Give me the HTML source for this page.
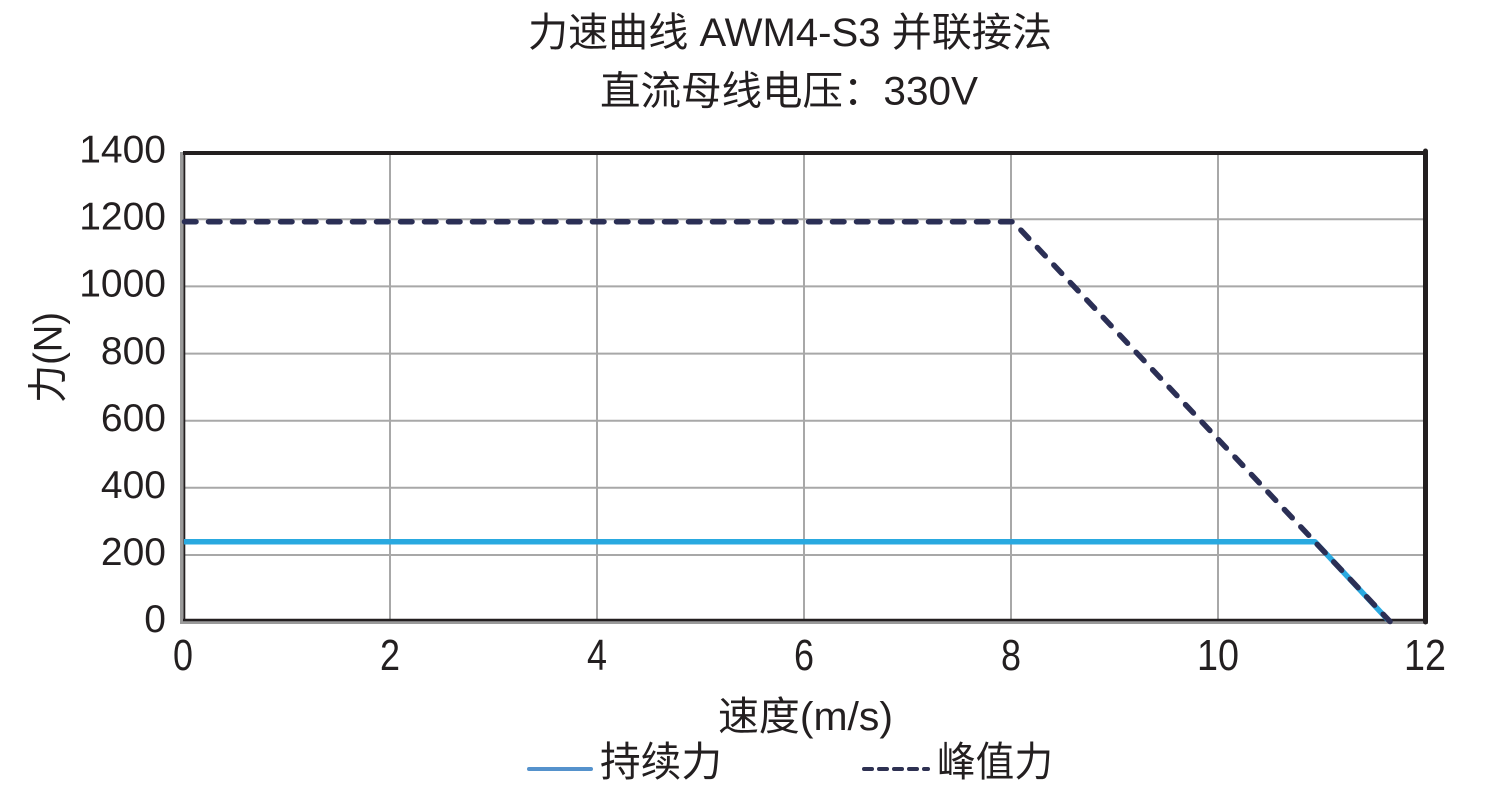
<!DOCTYPE html>
<html>
<head>
<meta charset="utf-8">
<style>
  html,body{margin:0;padding:0;background:#fff;}
  body{width:1509px;height:808px;overflow:hidden;}
  svg{display:block;}
  text{font-family:"Liberation Sans","Noto Sans CJK SC",sans-serif;fill:#231f20;}
</style>
</head>
<body>
<svg width="1509" height="808" viewBox="0 0 1509 808" xmlns="http://www.w3.org/2000/svg">
  <!-- Title -->
  <text x="528" y="46" font-size="40" textLength="524" lengthAdjust="spacingAndGlyphs">力速曲线 AWM4-S3 并联接法</text>
  <text x="600" y="104.5" font-size="40" textLength="378" lengthAdjust="spacingAndGlyphs">直流母线电压：330V</text>

  <!-- Grid -->
  <g stroke="#a8a8a8" stroke-width="2" fill="none">
    <line x1="390" y1="153" x2="390" y2="620"/>
    <line x1="597" y1="153" x2="597" y2="620"/>
    <line x1="804" y1="153" x2="804" y2="620"/>
    <line x1="1011" y1="153" x2="1011" y2="620"/>
    <line x1="1218" y1="153" x2="1218" y2="620"/>
    <line x1="184" y1="555" x2="1424" y2="555"/>
    <line x1="184" y1="487.8" x2="1424" y2="487.8"/>
    <line x1="184" y1="420.7" x2="1424" y2="420.7"/>
    <line x1="184" y1="353.6" x2="1424" y2="353.6"/>
    <line x1="184" y1="286.4" x2="1424" y2="286.4"/>
    <line x1="184" y1="219.3" x2="1424" y2="219.3"/>
  </g>

  <!-- Frame -->
  <polyline points="181.5,152 181.5,622.5 1428,622.5" fill="none" stroke="#9a9a9a" stroke-width="3"/>
  <line x1="184.3" y1="153" x2="184.3" y2="621" stroke="#231f20" stroke-width="2"/>
  <line x1="183" y1="620" x2="1428" y2="620" stroke="#231f20" stroke-width="2.5"/>
  <line x1="183" y1="153" x2="1428" y2="153" stroke="#231f20" stroke-width="4"/>
  <line x1="1425.5" y1="151" x2="1425.5" y2="622" stroke="#231f20" stroke-width="5" stroke-linecap="round"/>

  <!-- Series: continuous force -->
  <polyline points="184,541.8 1315,541.8 1388,620" fill="none" stroke="#29a9e0" stroke-width="5.5" stroke-linejoin="round"/>
  <!-- Series: peak force -->
  <polyline points="184.5,221.7 1013,221.7 1390,621.5" fill="none" stroke="#2b2f55" stroke-width="5.5" stroke-linecap="round" stroke-linejoin="round" stroke-dasharray="11.5 12.5"/>

  <!-- Y tick labels -->
  <g font-size="39" text-anchor="end">
    <text x="166" y="632">0</text>
    <text x="166" y="565">200</text>
    <text x="166" y="498">400</text>
    <text x="166" y="431">600</text>
    <text x="166" y="364">800</text>
    <text x="166" y="296.5">1000</text>
    <text x="166" y="229.5">1200</text>
    <text x="166" y="162.5">1400</text>
  </g>

  <!-- X tick labels -->
  <g font-size="44">
    <text x="173" y="670" textLength="20" lengthAdjust="spacingAndGlyphs">0</text>
    <text x="380" y="670" textLength="20" lengthAdjust="spacingAndGlyphs">2</text>
    <text x="587" y="670" textLength="20" lengthAdjust="spacingAndGlyphs">4</text>
    <text x="794" y="670" textLength="20" lengthAdjust="spacingAndGlyphs">6</text>
    <text x="1001" y="670" textLength="20" lengthAdjust="spacingAndGlyphs">8</text>
    <text x="1197" y="670" textLength="42" lengthAdjust="spacingAndGlyphs">10</text>
    <text x="1404" y="670" textLength="42" lengthAdjust="spacingAndGlyphs">12</text>
  </g>

  <!-- Axis titles -->
  <text x="718" y="730" font-size="40" textLength="175" lengthAdjust="spacingAndGlyphs">速度(m/s)</text>
  <text transform="translate(61.5,403) rotate(-90)" x="0" y="0" font-size="40" textLength="91" lengthAdjust="spacingAndGlyphs">力(N)</text>

  <!-- Legend -->
  <line x1="529" y1="769" x2="591" y2="769" stroke="#5592cc" stroke-width="4" stroke-linecap="round"/>
  <text x="600" y="776" font-size="41" textLength="122" lengthAdjust="spacingAndGlyphs">持续力</text>
  <line x1="864" y1="769" x2="928" y2="769" stroke="#2e3152" stroke-width="4" stroke-linecap="round" stroke-dasharray="8 7"/>
  <text x="937" y="776" font-size="41" textLength="116" lengthAdjust="spacingAndGlyphs">峰值力</text>
</svg>
</body>
</html>
